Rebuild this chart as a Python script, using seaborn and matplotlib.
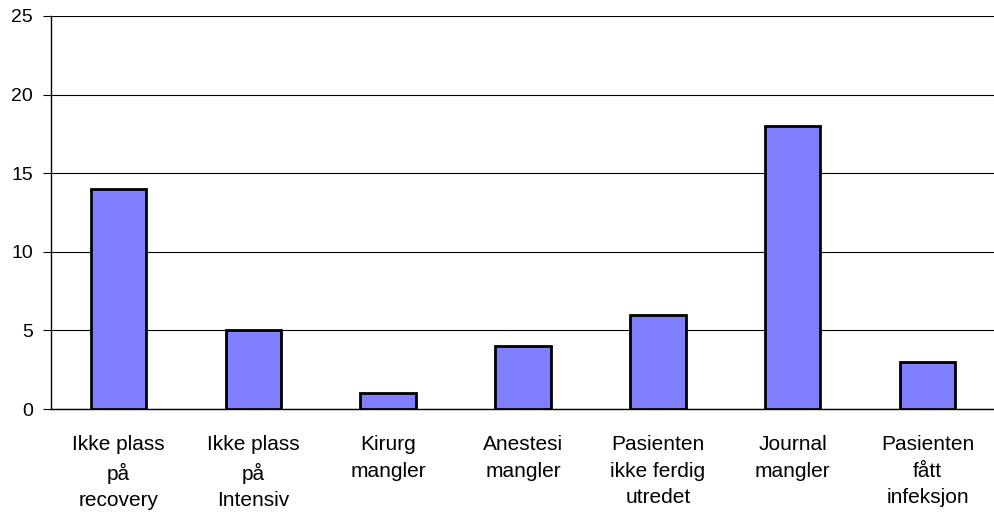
import matplotlib
matplotlib.use('Agg')
import matplotlib.pyplot as plt
import seaborn as sns
import pandas as pd
import numpy as np

# data
categories = ['Ikke plass\npå\nrecovery', 'Ikke plass\npå\nIntensiv', 'Kirurg\nmangler',
              'Anestesi\nmangler', 'Pasienten\nikke ferdig\nutredet', 'Journal\nmangler',
              'Pasienten\nfått\ninfeksjon']
values = [14, 5, 1, 4, 6, 18, 3]
yticks = [0, 5, 10, 15, 20, 25]

sns.set_style('white')
plt.rcParams['font.family'] = ['Liberation Sans', 'DejaVu Sans']
plt.rcParams['text.color'] = 'black'
plt.rcParams['xtick.color'] = 'black'
plt.rcParams['ytick.color'] = 'black'

df = pd.DataFrame({'kategori': categories, 'antall': values})

fig = plt.figure(figsize=(9.94, 5.13), dpi=100)
ax = fig.add_axes([51 / 994, 1 - 409 / 513, (995 - 51) / 994, (409 - 16) / 513])

sns.barplot(data=df, x='kategori', y='antall', color='#8080FF', saturation=1,
            width=0.41, edgecolor='black', linewidth=2, ax=ax, zorder=3)

ax.set_xlim(-0.5, len(categories) - 0.5)
ax.set_ylim(0, 25)
ax.set_yticks(yticks)
ax.yaxis.grid(True, color='black', linewidth=0.8)
ax.set_axisbelow(True)
ax.set_xlabel('')
ax.set_ylabel('')

for s in ['top', 'right']:
    ax.spines[s].set_visible(False)
for s in ['left', 'bottom']:
    ax.spines[s].set_color('black')
    ax.spines[s].set_linewidth(1)

ax.tick_params(axis='x', which='major', length=0, pad=19, labelsize=15, labelcolor='black')
ax.set_xticks(np.arange(0.5, len(categories) - 0.5), minor=True)
ax.tick_params(axis='x', which='minor', length=8, direction='inout', width=0.8, color='black')
ax.tick_params(axis='y', length=6, direction='out', width=0.8, color='black',
               labelsize=14, labelcolor='black', pad=7, left=True)
for lbl in ax.get_xticklabels():
    lbl.set_linespacing(1.5)
    lbl.set_va('top')

fig.savefig('out.png', dpi=100)
